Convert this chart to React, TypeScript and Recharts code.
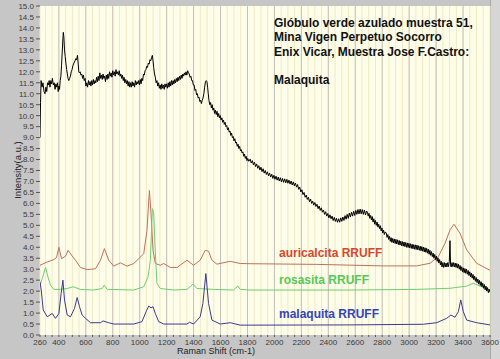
import React from 'react';
import { LineChart, Line, XAxis, YAxis, CartesianGrid } from 'recharts';

// Raman shift (cm-1), intensity (a.u.)
const sample: [number, number][] = [
  [260, 9.0], [264, 10.6], [268, 11.6], [275, 11.3], [282, 11.5], [290, 11.1], [297, 11.0], [304, 11.3],
  [310, 11.1], [316, 11.5], [322, 11.4], [328, 11.6], [334, 11.3], [340, 11.6], [346, 11.45], [352, 11.7],
  [359, 11.4], [365, 11.5], [372, 11.2], [378, 11.45], [384, 11.3], [390, 11.5], [395, 11.1], [400, 11.35],
  [405, 11.2], [410, 11.6], [415, 11.8], [420, 12.3], [425, 12.9], [430, 13.5], [433, 13.8], [437, 13.6],
  [442, 13.0], [447, 12.7], [452, 12.4], [458, 12.1], [463, 11.9], [468, 11.7], [474, 11.6], [480, 11.7],
  [486, 11.8], [492, 12.0], [498, 12.1], [505, 12.3], [512, 12.4], [520, 12.5], [526, 12.6], [532, 12.55],
  [538, 12.75], [543, 12.4], [548, 12.0], [553, 11.95], [558, 12.0], [564, 11.85], [570, 11.9], [576, 11.7],
  [582, 11.85], [588, 11.6], [595, 11.7], [601, 11.35], [607, 11.5], [613, 11.3], [620, 11.6], [626, 11.4],
  [632, 11.55], [638, 11.35], [644, 11.6], [650, 11.4], [656, 11.65], [662, 11.45], [668, 11.6], [674, 11.5],
  [680, 11.75], [686, 11.55], [692, 11.8], [698, 11.6], [704, 11.95], [710, 11.7], [716, 11.85], [722, 11.65],
  [728, 11.9], [734, 11.7], [740, 11.8], [746, 11.55], [752, 11.85], [758, 11.65], [764, 11.9], [770, 11.7],
  [776, 12.0], [782, 11.8], [788, 11.95], [794, 11.75], [800, 12.05], [806, 11.85], [812, 12.0], [818, 11.8],
  [824, 12.1], [830, 11.9], [836, 12.0], [842, 11.85], [848, 12.05], [854, 11.8], [860, 11.9], [866, 11.7],
  [872, 11.85], [878, 11.6], [884, 11.75], [890, 11.5], [896, 11.65], [902, 11.45], [908, 11.6], [914, 11.35],
  [920, 11.55], [926, 11.3], [932, 11.5], [938, 11.3], [944, 11.55], [950, 11.35], [956, 11.5], [962, 11.3],
  [968, 11.6], [974, 11.4], [980, 11.55], [986, 11.45], [992, 11.6], [998, 11.4], [1004, 11.65], [1010, 11.45],
  [1016, 11.7], [1022, 11.6], [1028, 11.9], [1034, 11.85], [1040, 12.05], [1046, 12.1], [1052, 12.25], [1058, 12.2],
  [1064, 12.4], [1070, 12.35], [1076, 12.55], [1082, 12.5], [1088, 12.65], [1094, 12.75], [1099, 12.5], [1104, 12.2],
  [1110, 11.9], [1116, 11.75], [1122, 11.5], [1128, 11.6], [1134, 11.35], [1140, 11.5], [1146, 11.25], [1152, 11.4],
  [1158, 11.2], [1164, 11.45], [1170, 11.25], [1176, 11.4], [1182, 11.2], [1188, 11.45], [1194, 11.3], [1200, 11.45],
  [1206, 11.25], [1212, 11.5], [1218, 11.3], [1224, 11.55], [1230, 11.35], [1236, 11.6], [1242, 11.4], [1248, 11.6],
  [1254, 11.45], [1260, 11.65], [1266, 11.5], [1272, 11.7], [1278, 11.55], [1284, 11.75], [1290, 11.6], [1296, 11.8],
  [1302, 11.65], [1308, 11.85], [1314, 11.7], [1320, 11.9], [1326, 11.8], [1332, 11.95], [1338, 11.85], [1344, 12.0],
  [1350, 11.85], [1356, 12.05], [1362, 11.95], [1368, 11.9], [1374, 11.75], [1380, 11.8], [1386, 11.6], [1392, 11.6],
  [1398, 11.4], [1404, 11.4], [1410, 11.15], [1416, 11.2], [1422, 10.95], [1428, 11.0], [1434, 10.8], [1440, 10.85],
  [1446, 10.65], [1452, 10.7], [1458, 10.55], [1464, 10.7], [1470, 10.8], [1476, 11.0], [1482, 11.3], [1488, 11.55],
  [1494, 11.6], [1499, 11.55], [1504, 11.3], [1509, 11.0], [1514, 10.7], [1520, 10.5], [1526, 10.6], [1532, 10.35],
  [1538, 10.5], [1544, 10.25], [1550, 10.35], [1556, 10.1], [1562, 10.25], [1568, 10.05], [1574, 10.2], [1580, 9.95],
  [1586, 10.1], [1592, 9.9], [1598, 10.0], [1604, 9.8], [1610, 9.9], [1616, 9.7], [1622, 9.8], [1628, 9.6],
  [1634, 9.7], [1640, 9.5], [1646, 9.55], [1652, 9.35], [1658, 9.45], [1664, 9.25], [1670, 9.3], [1676, 9.1],
  [1682, 9.2], [1688, 9.0], [1694, 9.05], [1700, 8.85], [1706, 8.95], [1712, 8.75], [1718, 8.8], [1724, 8.6],
  [1730, 8.7], [1736, 8.5], [1742, 8.6], [1748, 8.4], [1754, 8.45], [1760, 8.3], [1766, 8.35], [1772, 8.15],
  [1778, 8.25], [1784, 8.05], [1790, 8.15], [1796, 7.95], [1802, 8.05], [1810, 7.92], [1820, 8.02], [1828, 7.84],
  [1836, 7.95], [1844, 7.76], [1852, 7.88], [1860, 7.68], [1868, 7.8], [1876, 7.6], [1884, 7.72], [1892, 7.52],
  [1900, 7.65], [1908, 7.45], [1916, 7.58], [1924, 7.38], [1932, 7.5], [1940, 7.32], [1948, 7.44], [1956, 7.26],
  [1964, 7.38], [1972, 7.2], [1980, 7.33], [1988, 7.14], [1996, 7.28], [2004, 7.1], [2012, 7.24], [2020, 7.06],
  [2028, 7.2], [2036, 7.02], [2044, 7.17], [2052, 6.98], [2060, 7.14], [2068, 6.96], [2076, 7.12], [2084, 6.94],
  [2092, 7.1], [2100, 6.92], [2108, 7.06], [2116, 6.88], [2124, 7.02], [2132, 6.84], [2140, 6.98], [2148, 6.8],
  [2156, 6.93], [2164, 6.74], [2172, 6.86], [2180, 6.64], [2188, 6.74], [2196, 6.52], [2204, 6.62], [2212, 6.4],
  [2220, 6.5], [2228, 6.28], [2236, 6.38], [2244, 6.18], [2252, 6.28], [2260, 6.08], [2268, 6.2], [2276, 6.0],
  [2284, 6.1], [2292, 5.92], [2300, 6.04], [2308, 5.86], [2316, 5.96], [2324, 5.76], [2332, 5.88], [2340, 5.68],
  [2348, 5.8], [2356, 5.6], [2364, 5.7], [2372, 5.5], [2380, 5.62], [2388, 5.42], [2396, 5.54], [2404, 5.34],
  [2412, 5.48], [2420, 5.3], [2428, 5.42], [2436, 5.22], [2444, 5.36], [2452, 5.18], [2460, 5.32], [2468, 5.14],
  [2476, 5.3], [2484, 5.14], [2492, 5.34], [2500, 5.18], [2508, 5.38], [2516, 5.22], [2524, 5.44], [2532, 5.28],
  [2540, 5.5], [2548, 5.32], [2556, 5.56], [2564, 5.38], [2572, 5.6], [2580, 5.42], [2588, 5.64], [2596, 5.45],
  [2604, 5.68], [2612, 5.5], [2620, 5.72], [2628, 5.52], [2636, 5.74], [2644, 5.52], [2652, 5.72], [2660, 5.5],
  [2668, 5.7], [2676, 5.47], [2684, 5.65], [2690, 5.6], [2696, 5.42], [2702, 5.55], [2708, 5.32], [2714, 5.45],
  [2720, 5.25], [2726, 5.4], [2732, 5.15], [2738, 5.3], [2744, 5.05], [2750, 5.22], [2756, 5.0], [2762, 5.15],
  [2768, 4.92], [2774, 5.05], [2780, 4.85], [2786, 4.98], [2792, 4.75], [2798, 4.88], [2804, 4.65], [2810, 4.78],
  [2816, 4.58], [2822, 4.7], [2830, 4.65], [2836, 4.45], [2842, 4.58], [2848, 4.36], [2854, 4.5], [2860, 4.27],
  [2866, 4.44], [2872, 4.22], [2878, 4.4], [2884, 4.2], [2890, 4.38], [2896, 4.17], [2902, 4.36], [2908, 4.15],
  [2914, 4.34], [2920, 4.12], [2926, 4.31], [2932, 4.1], [2938, 4.28], [2944, 4.07], [2950, 4.26], [2956, 4.05],
  [2962, 4.24], [2968, 4.03], [2974, 4.22], [2980, 4.0], [2986, 4.2], [2992, 3.99], [2998, 4.18], [3004, 3.97],
  [3010, 4.16], [3016, 3.95], [3022, 4.14], [3028, 3.93], [3034, 4.12], [3040, 3.91], [3046, 4.11], [3052, 3.9],
  [3058, 4.1], [3064, 3.88], [3070, 4.07], [3076, 3.86], [3082, 4.05], [3088, 3.84], [3094, 4.03], [3100, 3.82],
  [3106, 4.01], [3112, 3.79], [3118, 3.98], [3124, 3.77], [3130, 3.95], [3136, 3.73], [3142, 3.91], [3148, 3.68],
  [3154, 3.86], [3160, 3.63], [3166, 3.8], [3172, 3.57], [3178, 3.73], [3184, 3.5], [3190, 3.67], [3196, 3.44],
  [3202, 3.6], [3208, 3.36], [3214, 3.52], [3220, 3.28], [3226, 3.44], [3232, 3.2], [3238, 3.36], [3244, 3.1],
  [3250, 3.3], [3256, 3.08], [3262, 3.3], [3268, 3.1], [3274, 3.28], [3280, 3.1], [3286, 3.3], [3292, 3.12],
  [3298, 3.35], [3303, 4.3], [3307, 3.2], [3312, 3.1], [3318, 3.3], [3324, 3.12], [3330, 3.3], [3336, 3.1],
  [3342, 3.28], [3348, 3.08], [3354, 3.26], [3360, 3.05], [3366, 3.23], [3372, 3.0], [3378, 3.17], [3384, 2.94],
  [3390, 3.11], [3396, 2.88], [3402, 3.06], [3408, 2.84], [3414, 3.03], [3420, 2.81], [3426, 3.0], [3432, 2.77],
  [3438, 2.94], [3444, 2.71], [3450, 2.88], [3456, 2.65], [3462, 2.82], [3468, 2.59], [3474, 2.76], [3480, 2.52],
  [3486, 2.69], [3492, 2.45], [3498, 2.62], [3504, 2.39], [3510, 2.55], [3516, 2.32], [3522, 2.49], [3528, 2.26],
  [3534, 2.43], [3540, 2.2], [3546, 2.36], [3552, 2.13], [3558, 2.3], [3564, 2.06], [3570, 2.23], [3576, 2.0],
  [3582, 2.16], [3588, 1.93], [3594, 2.08], [3600, 1.95],
];

const auricalcita: [number, number][] = [
  [260, 3.18], [314, 3.33], [363, 3.44], [383, 3.53], [400, 4.0], [420, 3.48], [449, 3.59], [469, 3.86],
  [494, 3.64], [523, 3.41], [560, 3.08], [610, 2.98], [672, 3.02], [709, 3.41], [738, 3.94], [770, 3.41],
  [807, 3.14], [857, 3.29], [906, 3.14], [956, 3.26], [993, 3.48], [1030, 3.71], [1054, 4.77], [1072, 6.59],
  [1084, 5.53], [1099, 3.86], [1116, 3.26], [1153, 3.18], [1178, 3.26], [1227, 3.08], [1277, 3.08], [1351, 3.41],
  [1400, 3.18], [1449, 3.41], [1486, 3.86], [1511, 3.82], [1536, 3.41], [1573, 3.23], [1672, 3.36], [1746, 3.26],
  [1820, 3.25], [2314, 3.22], [2808, 3.15], [3056, 3.15], [3155, 3.27], [3216, 3.57], [3266, 4.18], [3303, 4.79],
  [3333, 5.05], [3377, 4.64], [3427, 3.88], [3501, 3.27], [3600, 2.95],
];

const rosasita: [number, number][] = [
  [260, 2.27], [277, 2.58], [301, 3.08], [319, 2.65], [338, 2.27], [363, 2.08], [412, 2.08], [462, 2.12],
  [506, 2.2], [560, 2.08], [659, 2.05], [721, 2.12], [738, 2.27], [758, 2.08], [956, 2.05], [1030, 2.2],
  [1062, 2.65], [1079, 3.41], [1094, 5.76], [1104, 5.53], [1114, 4.02], [1128, 2.35], [1153, 2.12], [1252, 2.05],
  [1351, 2.08], [1395, 2.32], [1425, 2.12], [1548, 2.08], [1696, 2.05], [1728, 2.23], [1746, 2.08], [1820, 2.05],
  [2561, 2.05], [3056, 2.08], [3303, 2.13], [3427, 2.23], [3476, 2.36], [3526, 2.23], [3600, 2.05],
];

const malaquita: [number, number][] = [
  [260, 2.42], [269, 2.05], [284, 1.14], [314, 0.83], [351, 0.98], [375, 0.76], [400, 0.98], [417, 1.89],
  [430, 2.5], [442, 1.59], [462, 0.91], [486, 0.83], [516, 1.21], [536, 1.71], [553, 1.29], [573, 0.91],
  [598, 0.76], [635, 0.56], [709, 0.56], [728, 0.64], [770, 0.56], [807, 0.5], [956, 0.5], [1017, 0.61],
  [1047, 1.06], [1067, 1.32], [1084, 1.24], [1099, 1.29], [1116, 0.98], [1141, 0.61], [1178, 0.5], [1351, 0.5],
  [1370, 0.58], [1400, 0.5], [1449, 0.83], [1469, 1.44], [1491, 2.8], [1511, 1.44], [1536, 0.68], [1598, 0.5],
  [1672, 0.56], [1746, 0.45], [1820, 0.45], [2561, 0.46], [3105, 0.49], [3204, 0.56], [3278, 0.76], [3310, 0.91],
  [3340, 0.81], [3365, 1.06], [3383, 1.6], [3402, 1.06], [3427, 0.68], [3501, 0.56], [3600, 0.46],
];

const xLabelTicks = [260, 400, 600, 800, 1000, 1200, 1400, 1600, 1800, 2000, 2200, 2400, 2600, 2800, 3000, 3200, 3400, 3600];
const yTicks = [0, 0.5, 1, 1.5, 2, 2.5, 3, 3.5, 4, 4.5, 5, 5.5, 6, 6.5, 7, 7.5, 8, 8.5, 9, 9.5, 10, 10.5, 11, 11.5, 12, 12.5, 13, 13.5, 14, 14.5, 15];
const majorGrid = xLabelTicks.filter((v) => v % 200 === 0 && v < 3600);

const titleLines = ['Glóbulo verde azulado muestra 51,', 'Mina Vigen Perpetuo Socorro', 'Enix Vicar, Muestra Jose F.Castro:', '', 'Malaquita'];

const toPoints = (arr: [number, number][]) => arr.map(([x, y]) => ({ x, y }));

// minor ticks every 50 cm-1
const xAllTicks: number[] = [260];
for (let v = 300; v <= 3600; v += 50) xAllTicks.push(v);

const tickFont = { fontFamily: '"Liberation Sans", Arial, sans-serif', fontSize: 8, fill: '#3a3a3a' };

function XTick(props: any) {
  const { x, y, payload } = props;
  if (!xLabelTicks.includes(payload.value)) return null;
  return (
    <text x={x} y={y} dy="0.71em" textAnchor="middle" {...tickFont}>
      {payload.value}
    </text>
  );
}

export default function App() {
  const font = '"Liberation Sans", Arial, sans-serif';
  return (
    <div style={{ position: 'absolute', left: 0, top: 0, width: 500, height: 359, background: '#c6c6c6', overflow: 'hidden' }}>
      <div style={{ position: 'absolute', left: 490, top: 0, width: 10, height: 359, background: '#d6d6d6', borderLeft: '1px solid #a8a8a8' }} />
      <LineChart width={500} height={359} margin={{ top: 6, right: 10, bottom: 0, left: 0 }}>
        <CartesianGrid fill="#fefdea" stroke="#efeac2" horizontal={false} />
        <CartesianGrid stroke="#c4c2b8" horizontal={false} verticalValues={majorGrid} />
        <XAxis
          type="number"
          dataKey="x"
          domain={[260, 3600]}
          ticks={xAllTicks}
          interval={0}
          height={24}
          axisLine={false}
          tickSize={2}
          tickMargin={2}
          tickLine={{ stroke: '#555' }}
          tick={<XTick />}
          allowDataOverflow
        />
        <YAxis
          type="number"
          domain={[0, 15]}
          ticks={yTicks}
          interval={0}
          width={40}
          axisLine={false}
          tickSize={4}
          tickMargin={2}
          tickLine={{ stroke: '#555' }}
          tick={tickFont}
          tickFormatter={(v: number) => v.toFixed(1)}
        />
        <Line data={toPoints(auricalcita)} dataKey="y" stroke="#c0705c" strokeWidth={1} dot={false} isAnimationActive={false} />
        <Line data={toPoints(rosasita)} dataKey="y" stroke="#6ccf6c" strokeWidth={1} dot={false} isAnimationActive={false} />
        <Line data={toPoints(malaquita)} dataKey="y" stroke="#3a3a8c" strokeWidth={1} dot={false} isAnimationActive={false} />
        <Line data={toPoints(sample)} dataKey="y" stroke="#000000" strokeWidth={1} dot={false} isAnimationActive={false} />
      </LineChart>
      <div style={{ position: 'absolute', left: 274, top: 16, fontFamily: font, fontWeight: 'bold', fontSize: 12, lineHeight: '14.3px', color: '#111', whiteSpace: 'pre' }}>
        {titleLines.map((l, i) => (
          <div key={i} style={{ height: 14.3 }}>{l}</div>
        ))}
      </div>
      <div style={{ position: 'absolute', left: 279, top: 246, fontFamily: font, fontWeight: 'bold', fontSize: 12, lineHeight: '14px', color: '#d8462e', whiteSpace: 'pre' }}>auricalcita RRUFF</div>
      <div style={{ position: 'absolute', left: 279, top: 273, fontFamily: font, fontWeight: 'bold', fontSize: 12, lineHeight: '14px', color: '#56c856', whiteSpace: 'pre' }}>rosasita RRUFF</div>
      <div style={{ position: 'absolute', left: 279, top: 307, fontFamily: font, fontWeight: 'bold', fontSize: 12, lineHeight: '14px', color: '#3444b8', whiteSpace: 'pre' }}>malaquita RRUFF</div>
      <div style={{ position: 'absolute', left: 177, top: 346, fontFamily: font, fontSize: 9, lineHeight: '11px', color: '#222', whiteSpace: 'pre' }}>Raman Shift (cm-1)</div>
      <div style={{ position: 'absolute', left: 17, top: 170, transform: 'translate(-50%, -50%) rotate(-90deg)', fontFamily: font, fontSize: 9.5, lineHeight: '11px', color: '#222', whiteSpace: 'pre' }}>Intensity(a.u.)</div>
    </div>
  );
}
